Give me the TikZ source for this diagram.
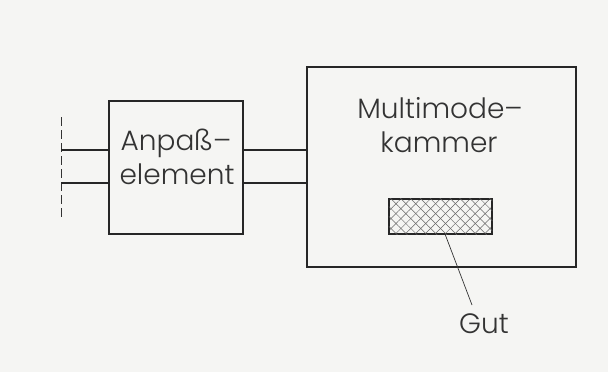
\documentclass[tikz,border=0pt]{standalone}
\usepackage{fontspec}
\newfontfamily\lab{Poppins Light}
\usetikzlibrary{patterns.meta}
\definecolor{paper}{RGB}{245,245,243}
\tikzset{
  blk/.style={draw=black!85, line width=1.7pt, minimum width=#1},
  wire/.style={draw=black!85, line width=1.7pt},
  lbl/.style={font=\lab\fontsize{28}{31}\selectfont, text=black!80, inner sep=0pt, anchor=base},
  lead/.style={draw=black!80, line width=0.7pt},
}
\begin{document}
\begin{tikzpicture}[x=1pt,y=-1pt]
\fill[paper] (0,0) rectangle (608,372);
\useasboundingbox (0,0) rectangle (608,372);
% boxes
\node[blk=134pt, minimum height=133pt, inner sep=0pt] (anp) at (176,167.5) {};
\node[blk=269pt, minimum height=200pt, inner sep=0pt] (mmk) at (441.5,167) {};
\node[draw=black!85, line width=1.7pt, minimum width=103pt, minimum height=35pt, inner sep=0pt,
  pattern={Lines[angle=45,distance=7pt,line width=0.5pt]}, pattern color=black!60] (gut) at (440.5,216.5) {};
\fill[pattern={Lines[angle=-45,distance=7pt,line width=0.5pt]}, pattern color=black!60] (gut.south west) rectangle (gut.north east);
% text
\node[lbl] (t1) at (176,150) {Anpaß–};
\node[lbl] (t2) at (177,184) {element};
\node[lbl] (t3) at (440,118) {Multimode–};
\node[lbl] (t4) at (439,152) {kammer};
\node[lbl] (t5) at (484,333) {Gut};
% wires
\coordinate (d1) at (61,150);
\coordinate (d2) at (61,183);
\coordinate (dtop) at (61,117);
\coordinate (dbot) at (61,217);
\draw[black!80, line width=0.9pt, dash pattern=on 9pt off 4pt] (dtop) -- (dbot);
\draw[wire] (d1) -- (d1 -| anp.west);
\draw[wire] (d2) -- (d2 -| anp.west);
\draw[wire] (d1 -| anp.east) -- (d1 -| mmk.west);
\draw[wire] (d2 -| anp.east) -- (d2 -| mmk.west);
% leader
\coordinate (ga) at (445,234);
\coordinate (gb) at (472,305);
\draw[lead] (ga) -- (gb);
\end{tikzpicture}
\end{document}
